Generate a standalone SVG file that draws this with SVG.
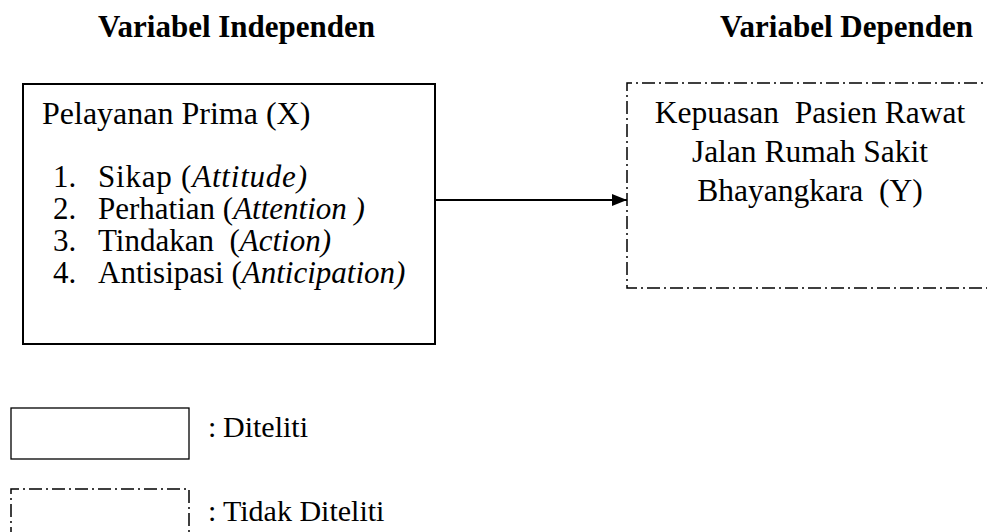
<svg xmlns="http://www.w3.org/2000/svg" width="987" height="532" viewBox="0 0 987 532">
<style>
text{fill:#000;font-size:31px}
.title{font-weight:bold;font-size:31px}
.hd{font-size:32px}
.rt{font-size:31.5px}
.lg{font-size:30px}
.it{font-style:italic}
.solid{fill:none;stroke:#000;stroke-width:2}
.thin{fill:none;stroke:#000;stroke-width:1.3}
.dash{fill:none;stroke:#000;stroke-width:1.5;stroke-dasharray:13 4 2 4}
.conn{fill:none;stroke:#000;stroke-width:2}
</style>
<defs>
<marker id="arr" markerWidth="15" markerHeight="12" refX="15" refY="6" orient="auto" markerUnits="userSpaceOnUse">
<path d="M0,0 L15,6 L0,12 Z" fill="#000"/>
</marker>
</defs>
<g id="titles">
<text font-family="'Liberation Serif', serif" class="title" x="98" y="37">Variabel Independen</text>
<text font-family="'Liberation Serif', serif" class="title" x="720" y="37">Variabel Dependen</text>
</g>
<g id="node-x">
<rect class="solid" x="23" y="84" width="412" height="260"/>
<text font-family="'Liberation Serif', serif" class="hd" x="42" y="124">Pelayanan Prima (X)</text>
<text font-family="'Liberation Serif', serif" x="53" y="187">1.</text>
<text font-family="'Liberation Serif', serif" x="98" y="187" textLength="209">Sikap (<tspan class="it">Attitude)</tspan></text>
<text font-family="'Liberation Serif', serif" x="53" y="219">2.</text>
<text font-family="'Liberation Serif', serif" x="98" y="219">Perhatian (<tspan class="it">Attention )</tspan></text>
<text font-family="'Liberation Serif', serif" x="53" y="251">3.</text>
<text font-family="'Liberation Serif', serif" x="98" y="251" xml:space="preserve">Tindakan  (<tspan class="it">Action)</tspan></text>
<text font-family="'Liberation Serif', serif" x="53" y="283">4.</text>
<text font-family="'Liberation Serif', serif" x="98" y="283">Antisipasi (<tspan class="it">Anticipation)</tspan></text>
</g>
<g id="node-y">
<path class="dash" d="M1000,83 H627 V288 H1000"/>
<text font-family="'Liberation Serif', serif" class="rt" x="810" y="123" text-anchor="middle" xml:space="preserve">Kepuasan  Pasien Rawat</text>
<text font-family="'Liberation Serif', serif" class="rt" x="810" y="162" text-anchor="middle">Jalan Rumah Sakit</text>
<text font-family="'Liberation Serif', serif" class="rt" x="810" y="201" text-anchor="middle" xml:space="preserve">Bhayangkara  (Y)</text>
</g>
<g id="connectors">
<line class="conn" x1="436" y1="200" x2="627" y2="200" marker-end="url(#arr)"/>
</g>
<g id="legend-diteliti">
<rect class="thin" x="11" y="408" width="178" height="51"/>
<text font-family="'Liberation Serif', serif" class="lg" x="208" y="437">:</text>
<text font-family="'Liberation Serif', serif" class="lg" x="223" y="437">Diteliti</text>
</g>
<g id="legend-tidak">
<path class="dash" d="M11,540 V489 H189 V540"/>
<text font-family="'Liberation Serif', serif" class="lg" x="208" y="521">:</text>
<text font-family="'Liberation Serif', serif" class="lg" x="223" y="521">Tidak Diteliti</text>
</g>
</svg>
